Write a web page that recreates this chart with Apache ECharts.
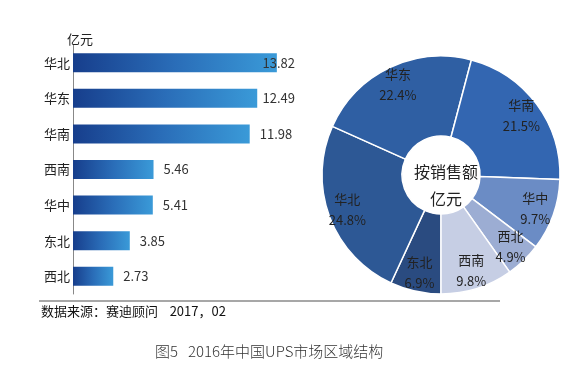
<!DOCTYPE html>
<html>
<head>
<meta charset="utf-8">
<script src="https://cdn.jsdelivr.net/npm/echarts@6/dist/echarts.min.js"></script>
<style>
html,body{margin:0;padding:0;background:#fff;}
#chart{width:588px;height:369px;}
</style>
</head>
<body>
<div id="chart"></div>
<script>
// Data
const barCategories = ['华北', '华东', '华南', '西南', '华中', '东北', '西北'];
const barValues = [13.82, 12.49, 11.98, 5.46, 5.41, 3.85, 2.73];
const pieNames = ['东北', '华北', '华东', '华南', '华中', '西北', '西南'];
const pieValues = [3.85, 13.82, 12.49, 11.98, 5.41, 2.73, 5.46];
const pieColors = ['#2a4b80', '#2d5895', '#2f5fa3', '#3366b1', '#6b8cc5', '#9cadd3', '#c6cee4'];
const unitLabel = '亿元';
const centerLabel = '按销售额\n亿元';
const sourceText = '数据来源：赛迪顾问    2017，02';
const captionText = '图5   2016年中国UPS市场区域结构';

const FONT = '"Noto Sans CJK SC", "Microsoft YaHei", sans-serif';
const PIE_C = [441, 175];

const chart = echarts.init(document.getElementById('chart'), null, {renderer: 'canvas'});
chart.setOption({
  backgroundColor: '#fff',
  animation: false,
  title: [
    {text: unitLabel, left: 62, top: 28, textStyle: {fontFamily: FONT, fontSize: 13, fontWeight: 'normal', color: '#222'}},
    {text: centerLabel, left: PIE_C[0], top: 153, textAlign: 'center',
     textStyle: {fontFamily: FONT, fontSize: 16, fontWeight: 'normal', color: '#222', lineHeight: 27}},
    {text: sourceText, left: 36, top: 300, textStyle: {fontFamily: FONT, fontSize: 13, fontWeight: 'normal', color: '#111'}},
    {text: captionText, left: 150, top: 339, textStyle: {fontFamily: FONT, fontSize: 15, fontWeight: 300, color: '#333'}}
  ],
  grid: {left: 73, top: 45, width: 236, height: 249, containLabel: false},
  xAxis: {type: 'value', min: 0, max: 16, show: false},
  yAxis: {
    type: 'category', data: barCategories, inverse: true,
    axisLine: {show: true, lineStyle: {color: '#888', width: 1}},
    axisTick: {show: false},
    axisLabel: {fontFamily: FONT, fontSize: 13, color: '#222', margin: 3}
  },
  graphic: [
    {type: 'line', shape: {x1: 39, y1: 301, x2: 500, y2: 301}, style: {stroke: '#8a8a8a', lineWidth: 1.5}}
  ],
  series: [
    {
      type: 'bar', data: barValues, barWidth: 19,
      itemStyle: {
        color: new echarts.graphic.LinearGradient(0, 0, 1, 0, [
          {offset: 0, color: '#173e8c'},
          {offset: 0.5, color: '#2a6db8'},
          {offset: 1, color: '#3a9ad8'}
        ])
      },
      label: {show: true, position: 'right', distance: 10, fontFamily: FONT, fontSize: 13, color: '#333'},
      labelLayout: function (p) {
        const r = p.labelRect;
        const limit = 295;
        if (r.x + r.width > limit) return {dx: limit - (r.x + r.width)};
        return {};
      }
    },
    {
      type: 'pie', center: PIE_C, radius: [39, 119], startAngle: 270, clockwise: true,
      percentPrecision: 1,
      data: pieNames.map((n, i) => ({name: n, value: pieValues[i], itemStyle: {color: pieColors[i]}})),
      itemStyle: {borderColor: '#fff', borderWidth: 1.5},
      label: {show: true, position: 'inside', formatter: '{b}\n{d}%', fontFamily: FONT, fontSize: 13, color: '#222', lineHeight: 21},
      labelLine: {show: false},
      emphasis: {disabled: true},
      labelLayout: function (p) {
        if (p.seriesIndex !== 1) return {};
        if (p.percent !== undefined && p.percent >= 15) return {};
        const r = p.labelRect;
        const cx = r.x + r.width / 2, cy = r.y + r.height / 2;
        const vx = cx - PIE_C[0], vy = cy - PIE_C[1];
        const len = Math.sqrt(vx * vx + vy * vy) || 1;
        const push = 18;
        return {dx: vx / len * push, dy: vy / len * push};
      }
    }
  ]
});
</script>
</body>
</html>
